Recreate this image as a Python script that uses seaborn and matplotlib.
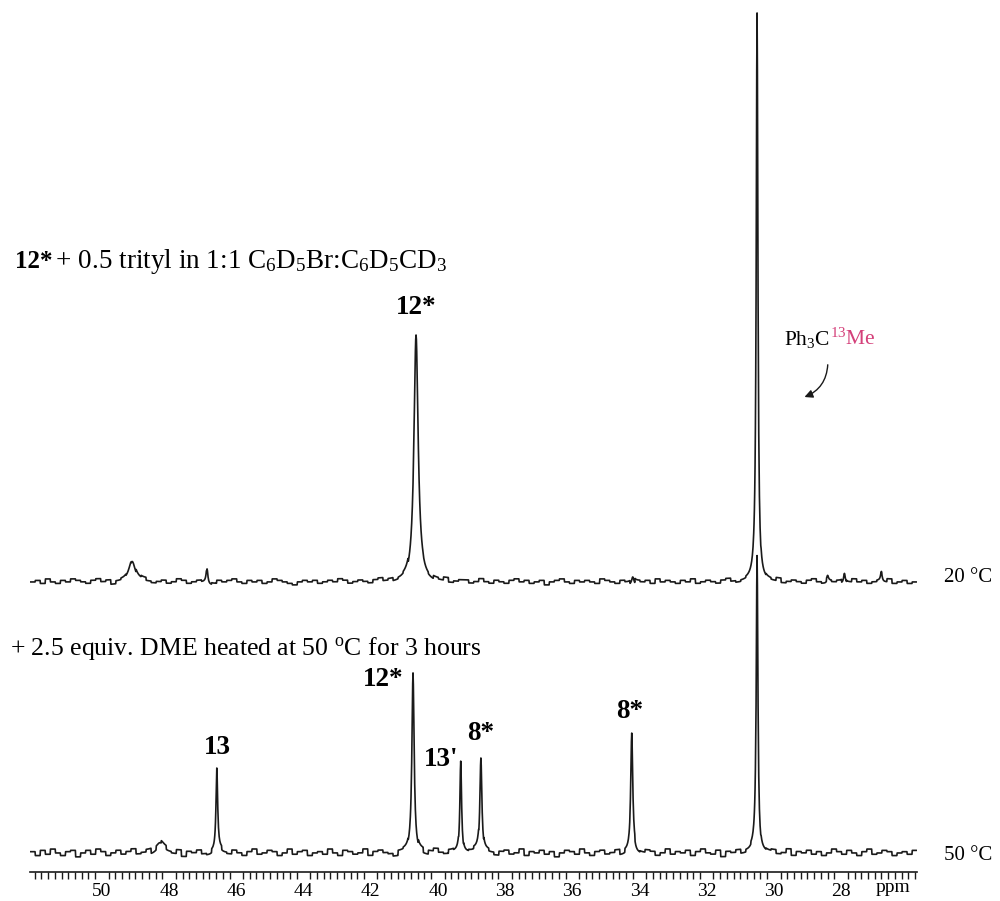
import numpy as np
import pandas as pd
import matplotlib
matplotlib.use("Agg")
import matplotlib.pyplot as plt
import seaborn as sns

sns.set_theme(style="white")
plt.rcParams['font.family'] = ['Liberation Serif', 'DejaVu Serif']
plt.rcParams['mathtext.fontset'] = 'custom'
plt.rcParams['mathtext.rm'] = 'Liberation Serif'
plt.rcParams['mathtext.bf'] = 'Liberation Serif:bold'
plt.rcParams['mathtext.it'] = 'Liberation Serif:italic'
plt.rcParams['text.color'] = 'black'
plt.rcParams['xtick.color'] = 'black'
plt.rcParams['axes.labelcolor'] = 'black'

# peak tables: shift (ppm), height (px), half width (ppm)
top_shift = [49.10, 46.87, 40.65, 34.20, 30.50, 28.40, 27.90, 26.80]
top_height = [22, 16, 247, 8, 572, 5, 10, 9]
top_width = [0.12, 0.03, 0.075, 0.04, 0.03, 0.03, 0.03, 0.03]

bot_shift = [48.27, 46.58, 40.74, 39.32, 38.72, 34.23, 30.50]
bot_height = [9, 81, 180, 94, 96, 116, 300]
bot_width = [0.15, 0.03, 0.04, 0.03, 0.035, 0.035, 0.03]

# baseline wiggle (px), left to right
top_noise = [0, 1, -1, 2, 0, -1, 1, 0, 2, 1, 0, -1, 1, 2, 0, 1, -2, 0, 1, 0,
             -1, 1, 2, 0, -1, 0, 1, -1, 0, 2, 1, -1, 0, 1, 0, -2, -1, 1, 0, 1,
             2, 0, -1, 1, 0, 1, -1, 0, 2, 1, 0, -1, -2, 0, 1, 0, 1, -1, 0, 1,
             0, 2, 1, -1, 0, 1, 0, -1, 1, 2, 0, 1, -1, 0, 1, -2, 0, 1, 0, -1,
             1, 0, 2, -1, 0, 1, 1, -1, 0, 2, 0, -1, 1, 0, -1, 1, 2, 0, 1, -1,
             0, 1, -2, 0, 1, 2, 0, -1, 1, 0, 1, 0, -1, 2, 1, 0, -1, 1, 0, -2,
             1, 0, 1, -1, 2, 0, 1, 0, -1, 1, 0, 2, -1, 0, 1, 0, -1, 1, 2, 0,
             -1, 0, 1, 1, -2, 0, 1, 0, 2, -1, 0, 1, 0, -1, 1, 2, 0, -1, 1, 0,
             1, -1, 0, 2, 0, 1, -1, 0, 1, 0, 2, -1, 0, 1, -1, 0]
bot_noise = [1, -2, 2, -1, 3, 0, -2, 1, 2, -3, 0, 2, -1, 3, 1, -2, 0, 2, -1, 1,
             3, -1, 0, 2, -2, 1, 3, 0, -1, 2, -3, 1, 0, 2, -1, -2, 1, 3, 0, -1,
             2, 0, -2, 1, 3, -1, 0, 2, 1, -2, 0, 3, -1, 1, 2, -2, 0, 1, -1, 3,
             0, -2, 2, 1, -1, 0, 3, -2, 1, 2, 0, -1, -3, 1, 2, 0, -1, 2, -2, 1,
             3, 0, -1, 2, 1, -2, 0, 1, 3, -1, 2, 0, -2, 1, 2, -1, 0, 3, -2, 1,
             0, 2, -1, 1, -3, 0, 2, 1, -1, 3, 0, -2, 1, 2, -1, 0, 2, -2, 1, 3,
             -1, 0, 2, 1, -2, 0, 3, -1, 1, 0, 2, -2, 1, 3, 0, -1, 2, -3, 1, 0,
             2, -1, 1, 3, -2, 0, 1, 2, -1, 0, 3, -2, 1, 0, 2, -1, 1, -2, 0, 3,
             1, -1, 2, 0, -2, 1, 3, -1, 0, 2, 1, -2, 0, 1, -1, 2]

tick_values = [50, 48, 46, 44, 42, 40, 38, 36, 34, 32, 30, 28]

X_LEFT, X_RIGHT = 52.14, 25.74
TOP_BASE, BOT_BASE = 290, 19


def spectrum(shifts, heights, widths, noise, base, amp):
    ppm = np.arange(X_LEFT, X_RIGHT, -0.01)
    idx = ((X_LEFT - ppm) / (X_LEFT - X_RIGHT) * len(noise)).astype(int)
    idx = np.clip(idx, 0, len(noise) - 1)
    y = base + amp * np.array(noise, dtype=float)[idx]
    for s, h, w in zip(shifts, heights, widths):
        y += h / (1 + ((ppm - s) / w) ** 2)
    return pd.DataFrame({'ppm': ppm, 'intensity': y})


df_top = spectrum(top_shift, top_height, top_width, top_noise, TOP_BASE, 1.5)
df_bot = spectrum(bot_shift, bot_height, bot_width, bot_noise, BOT_BASE, 1.3)

fig = plt.figure(figsize=(10, 9.01), dpi=100)
ax = fig.add_axes([0.030, 29 / 901, 0.887, 872 / 901])

sns.lineplot(data=df_top, x='ppm', y='intensity', color='k', lw=1.2,
             sort=False, estimator=None, ax=ax)
sns.lineplot(data=df_bot, x='ppm', y='intensity', color='k', lw=1.2,
             sort=False, estimator=None, ax=ax)

ax.set_xlim(X_LEFT, X_RIGHT)
ax.set_ylim(0, 872)
ax.set_xlabel('')
ax.set_ylabel('')
ax.set_yticks([])
for side in ['top', 'left', 'right']:
    ax.spines[side].set_visible(False)
ax.spines['bottom'].set_color('k')
ax.spines['bottom'].set_linewidth(1.2)
ax.set_xticks(tick_values)
ax.set_xticklabels([str(t) for t in tick_values], fontsize=14)
ax.set_xticks(np.arange(52.0, 25.7, -0.2), minor=True)
ax.tick_params(axis='x', which='major', direction='out', length=7, width=1, color='k', pad=1)
ax.tick_params(axis='x', which='minor', direction='out', length=5, width=1, color='k', bottom=True)


def P(xpx, ypx):
    # figure pixel -> data coordinates
    return 50 - (xpx - 102) / 33.6, 872 - ypx


ax.text(*P(15, 262), '12*', fontsize=18, fontweight='bold', ha='left', va='center')
ax.text(*P(49, 262), r' + 0.5 trityl in 1:1 C$_6$D$_5$Br:C$_6$D$_5$CD$_3$',
        fontsize=19.5, ha='left', va='center')
ax.text(*P(10, 648), r'+ 2.5 equiv. DME heated at 50 $^{\mathrm{o}}$C for 3 hours',
        fontsize=18.5, ha='left', va='center')

for lbl, xp, yp in [('12*', 416, 308), ('12*', 383, 680), ('13', 217, 747),
                    ("13'", 441, 760), ('8*', 481, 734), ('8*', 630, 712)]:
    ax.text(*P(xp, yp), lbl, fontsize=19.5, fontweight='bold', ha='center', va='center')

ax.text(*P(830, 345), r'Ph$_3$C', fontsize=15.5, ha='right', va='baseline')
ax.text(*P(830, 345), r'$^{13}$Me', fontsize=15.5, ha='left', va='baseline', color='#d4407a')
ax.annotate('', xy=P(802, 398), xytext=P(828, 362),
            arrowprops=dict(arrowstyle='-|>', color='k', lw=1.0,
                            connectionstyle='arc3,rad=-0.35', mutation_scale=12))

ax.text(*P(944, 578), '20 \u00b0C', fontsize=15, ha='left', va='center')
ax.text(*P(944, 855), '50 \u00b0C', fontsize=15, ha='left', va='center')
ax.text(*P(893, 888), 'ppm', fontsize=14, ha='center', va='center')

fig.savefig('out.png', dpi=100)
